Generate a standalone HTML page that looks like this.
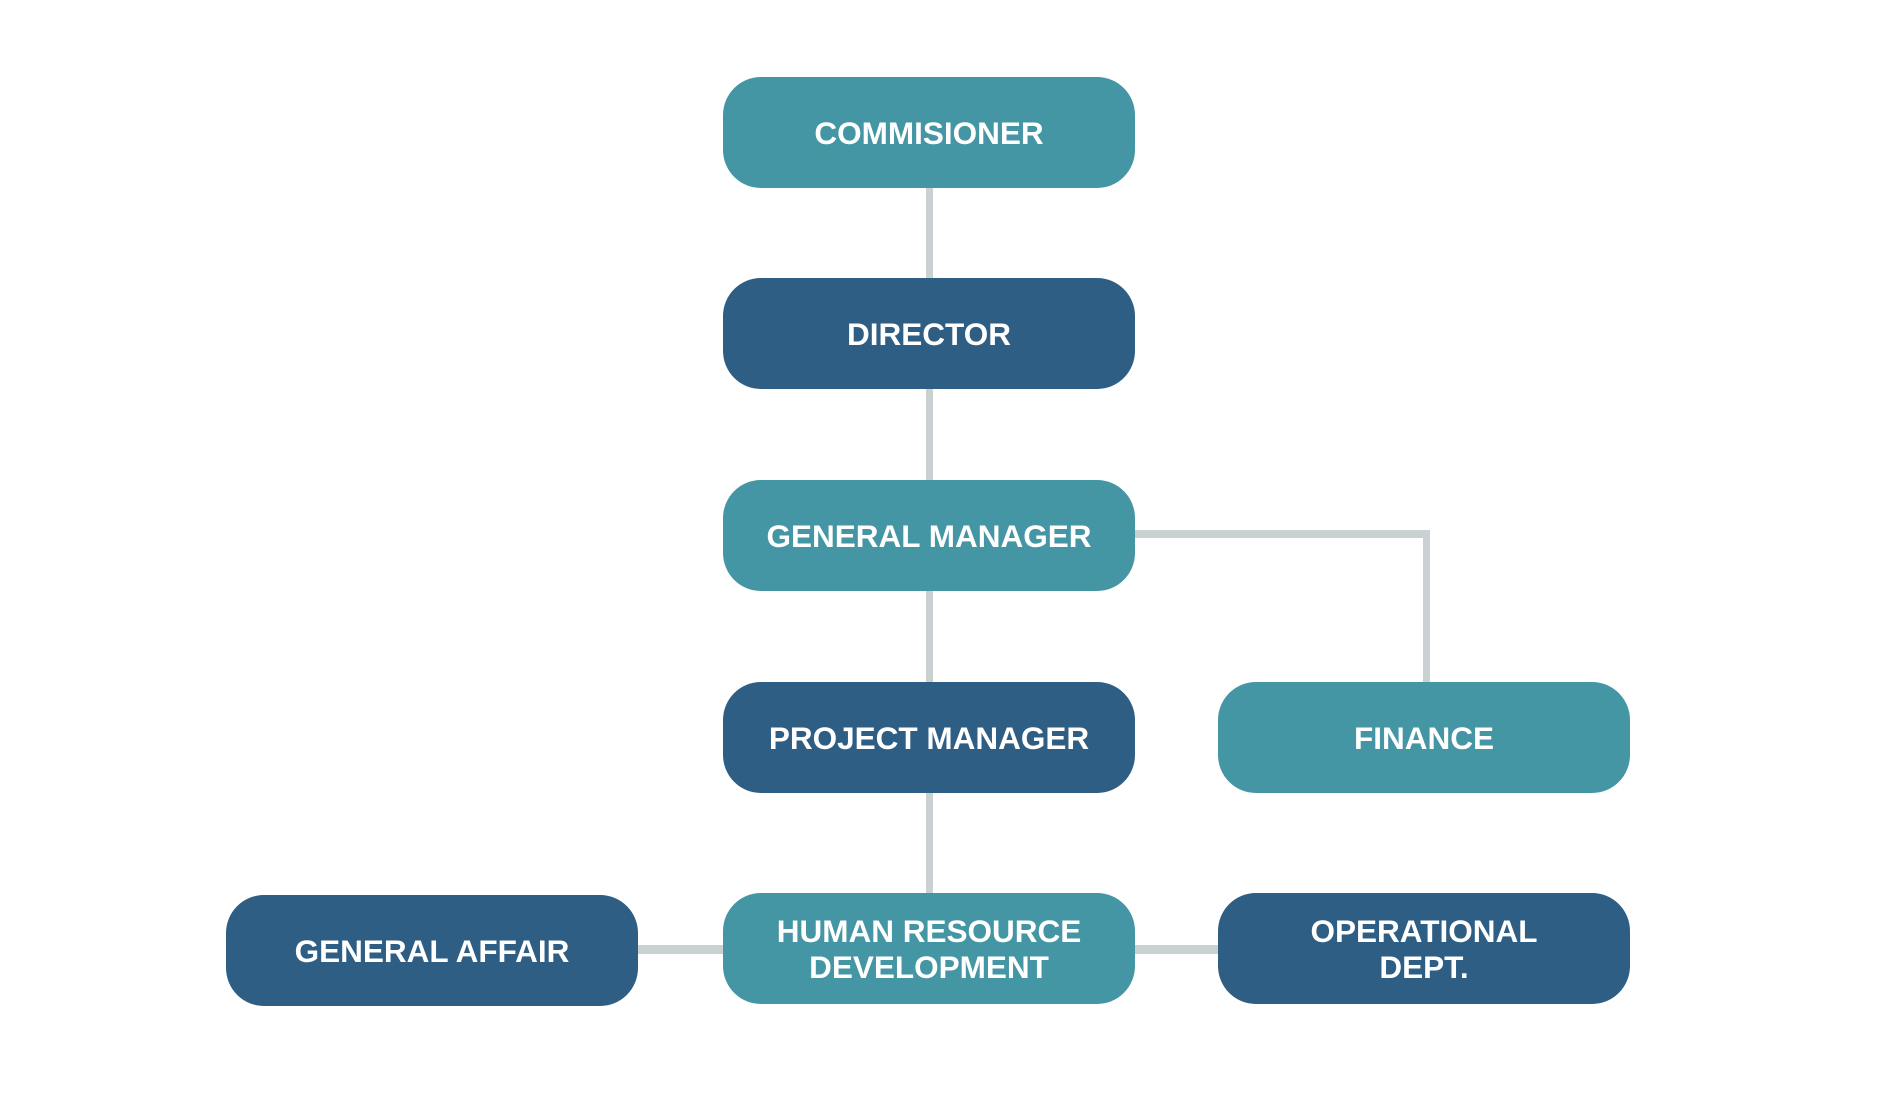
<!DOCTYPE html>
<html><head><style>
body{margin:0;width:1904px;height:1094px;background:#fff;position:relative;overflow:hidden;font-family:"Liberation Sans",Arial,sans-serif}
.b{position:absolute;width:412px;height:111px;border-radius:38px;color:#fff;font-weight:bold;font-size:31.5px;display:flex;align-items:center;justify-content:center;text-align:center;line-height:36px}
.t{background:#4596a4}.d{background:#2e5e84}
.l{position:absolute;background:#c9d1d3}
</style></head><body>
<div class="l" style="left:926px;top:180px;width:7px;height:720px"></div>
<div class="l" style="left:1130px;top:530px;width:300px;height:8px"></div>
<div class="l" style="left:1423px;top:530px;width:7px;height:160px"></div>
<div class="l" style="left:630px;top:945px;width:600px;height:9px"></div>

<div class="b t" style="left:723px;top:77px">COMMISIONER</div>
<div class="b d" style="left:723px;top:278px">DIRECTOR</div>
<div class="b t" style="left:723px;top:480px">GENERAL MANAGER</div>
<div class="b d" style="left:723px;top:682px">PROJECT MANAGER</div>
<div class="b t" style="left:1218px;top:682px">FINANCE</div>
<div class="b d" style="left:226px;top:895px">GENERAL AFFAIR</div>
<div class="b t" style="left:723px;top:893px">HUMAN RESOURCE<br>DEVELOPMENT</div>
<div class="b d" style="left:1218px;top:893px">OPERATIONAL<br>DEPT.</div>
</body></html>
